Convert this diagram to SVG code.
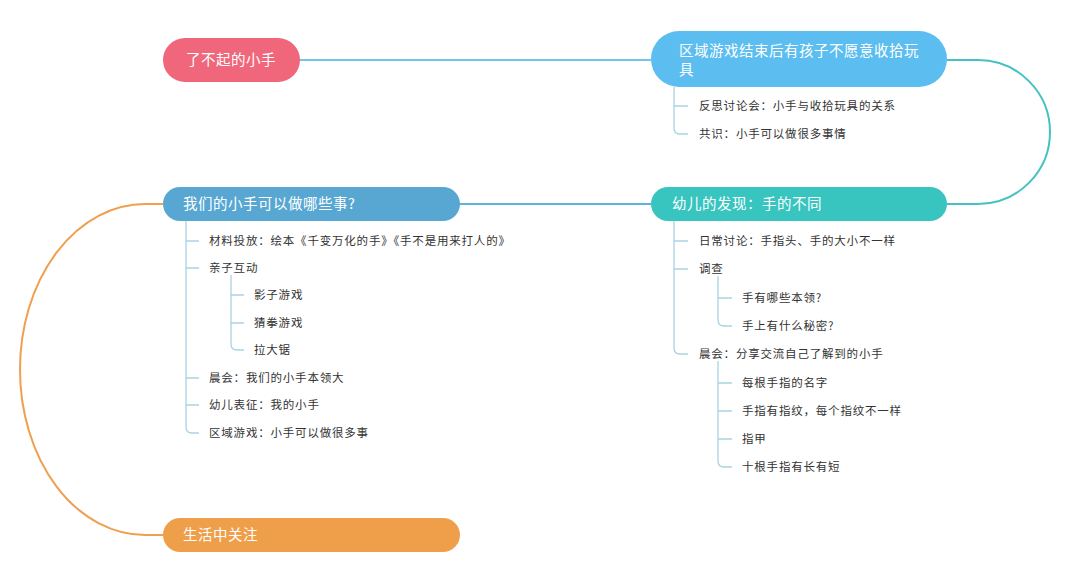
<svg xmlns="http://www.w3.org/2000/svg" width="1068" height="578" viewBox="0 0 1068 578">
<style>
.t{font-family:"Noto Sans CJK SC","Noto Sans",sans-serif;font-size:11.5px;letter-spacing:0.8px;fill:#333}
.w{font-family:"Noto Sans CJK SC","Noto Sans",sans-serif;font-size:14.5px;letter-spacing:0.5px;fill:#fff}
.b{fill:none;stroke:#a9d3e3;stroke-width:1.3}
</style>
<rect width="1068" height="578" fill="#fff"/>
<g id="connectors" fill="none" stroke-width="2">
<path d="M300 60H651" stroke="#72c6ea"/>
<path d="M947 60H978A72 72 0 0 1 978 204H947" stroke="#45c1c3"/>
<path d="M460 204H651" stroke="#5fb3d8"/>
<path d="M163 204H145A125 165.5 0 0 0 145 535H163" stroke="#efa04e"/>
<path class="b" d="M674 87V128Q674 134 680 134H688M674 106H688"/>
<path class="b" d="M674 221V348Q674 354 680 354H688M674 241H688M674 269H688"/>
<path class="b" d="M718 276V320Q718 326 724 326H732M718 298H732"/>
<path class="b" d="M718 361V461Q718 467 724 467H732M718 383H732M718 411H732M718 439H732"/>
<path class="b" d="M186 221V427Q186 433 192 433H199M186 241H199M186 268H199M186 378H199M186 405H199"/>
<path class="b" d="M231 275V344Q231 350 237 350H244M231 295H244M231 323H244"/>
</g>
<g id="n1"><rect x="163" y="38" width="137" height="44" rx="22" fill="#f0677b"/><text class="w" x="186" y="65">了不起的小手</text></g>
<g id="n2"><rect x="651" y="31" width="296" height="56" rx="28" fill="#5bbdf0"/><text class="w" x="679" y="56">区域游戏结束后有孩子不愿意收拾玩</text><text class="w" x="679" y="75">具</text></g>
<g id="n3"><rect x="651" y="187" width="296" height="34" rx="17" fill="#38c5bf"/><text class="w" x="672" y="209">幼儿的发现：手的不同</text></g>
<g id="n4"><rect x="163" y="187" width="297" height="34" rx="17" fill="#58a7d3"/><text class="w" x="183" y="209">我们的小手可以做哪些事?</text></g>
<g id="n5"><rect x="163" y="518" width="297" height="34" rx="17" fill="#ef9e4a"/><text class="w" x="183" y="540">生活中关注</text></g>
<g id="leaves">
<text class="t" x="699" y="110">反思讨论会：小手与收拾玩具的关系</text>
<text class="t" x="699" y="138">共识：小手可以做很多事情</text>
<text class="t" x="699" y="245">日常讨论：手指头、手的大小不一样</text>
<text class="t" x="699" y="273">调查</text>
<text class="t" x="742" y="302">手有哪些本领?</text>
<text class="t" x="742" y="330">手上有什么秘密?</text>
<text class="t" x="699" y="358">晨会：分享交流自己了解到的小手</text>
<text class="t" x="742" y="387">每根手指的名字</text>
<text class="t" x="742" y="415">手指有指纹，每个指纹不一样</text>
<text class="t" x="742" y="443">指甲</text>
<text class="t" x="742" y="471">十根手指有长有短</text>
<text class="t" x="209" y="245">材料投放：绘本《千变万化的手》《手不是用来打人的》</text>
<text class="t" x="209" y="272">亲子互动</text>
<text class="t" x="254" y="299">影子游戏</text>
<text class="t" x="254" y="327">猜拳游戏</text>
<text class="t" x="254" y="354">拉大锯</text>
<text class="t" x="209" y="382">晨会：我们的小手本领大</text>
<text class="t" x="209" y="409">幼儿表征：我的小手</text>
<text class="t" x="209" y="437">区域游戏：小手可以做很多事</text>
</g>
</svg>
